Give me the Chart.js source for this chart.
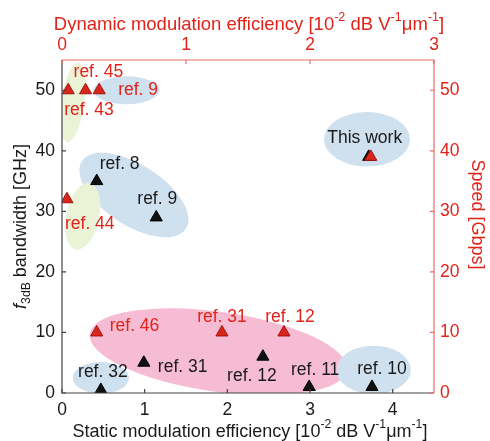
<!DOCTYPE html>
<html>
<head>
<meta charset="utf-8">
<script src="https://cdn.jsdelivr.net/npm/chart.js@4/dist/chart.umd.min.js"></script>
<style>body{margin:0;background:#fff}</style>
</head>
<body>
<canvas id="chart" width="490" height="441"></canvas>
<script>
// static efficiency (bottom axis) vs 3 dB bandwidth (left axis)
const staticRefs = ['ref. 8', 'ref. 9', 'This work', 'ref. 32', 'ref. 31', 'ref. 12', 'ref. 11', 'ref. 10'];
const staticEff  = [0.42, 1.14, 3.71, 0.47, 0.99, 2.43, 2.99, 3.75];
const staticBw   = [35, 29, 39, 0.5, 5, 6, 1, 1];

// dynamic efficiency (top axis) vs speed (right axis)
const dynRefs  = ['ref. 43', 'ref. 45', 'ref. 9', 'ref. 44', 'ref. 46', 'ref. 31', 'ref. 12', ''];
const dynEff   = [0.05, 0.19, 0.30, 0.04, 0.28, 1.29, 1.79, 2.49];
const dynSpeed = [50, 50, 50, 32, 10, 10, 10, 39];

const staticTicks = [0, 1, 2, 3, 4];
const dynTicks = [0, 1, 2, 3];
const yTicks = [0, 10, 20, 30, 40, 50];

const RED = '#e2231a';
const INK = '#1a1a1a';
const FONT = '"Liberation Sans", Arial, sans-serif';

// label placement (px offset from point, alignment)
const staticLabelPos = [
  [3, -17, 'left'], [1, -18, 'center'], [-4, -19, 'center'], [2, -18, 'center'],
  [14, 4, 'left'], [-11, 19, 'center'], [6, -17, 'center'], [10, -18, 'center']
];
const dynLabelPos = [
  [-4, 20, 'left'], [-12, -18, 'left'], [19, 0, 'left'], [-2, 25, 'left'],
  [13, -6, 'left'], [0, -15, 'center'], [6, -15, 'center'], null
];

// shaded groups, in bottom-axis / left-axis units
const regions = [
  {cx: 0.78, cy: 50,   rx: 0.40, ry: 2.3, rot: 0,  fill: '#cfe0ef'},
  {cx: 0.13, cy: 48,   rx: 0.14, ry: 6.6, rot: 8,  fill: '#eaf3d6'},
  {cx: 0.87, cy: 32.7, rx: 0.75, ry: 5.0, rot: 33, fill: '#cfe0ef'},
  {cx: 0.25, cy: 29.2, rx: 0.20, ry: 5.6, rot: 12, fill: '#eaf3d6'},
  {cx: 3.69, cy: 41.9, rx: 0.52, ry: 4.5, rot: 0,  fill: '#cfe0ef'},
  {cx: 1.89, cy: 6.8,  rx: 1.57, ry: 6.6, rot: 8,  fill: '#f6bcd4'},
  {cx: 0.47, cy: 2.5,  rx: 0.34, ry: 2.6, rot: 0,  fill: '#cfe0ef'},
  {cx: 3.77, cy: 3.8,  rx: 0.45, ry: 4.0, rot: 0,  fill: '#cfe0ef'}
];

function drawRich(ctx, parts, x, y, size, color) {
  let w = 0;
  parts.forEach(p => {
    ctx.font = (p.it ? 'italic ' : '') + (p.s ? size * 0.68 : size) + 'px ' + FONT;
    p.w = ctx.measureText(p.t).width;
    w += p.w;
  });
  let cx = x - w / 2;
  ctx.fillStyle = color;
  ctx.textBaseline = 'middle';
  ctx.textAlign = 'left';
  parts.forEach(p => {
    ctx.font = (p.it ? 'italic ' : '') + (p.s ? size * 0.68 : size) + 'px ' + FONT;
    const dy = p.s === 'sup' ? -size * 0.42 : (p.s === 'sub' ? size * 0.3 : 0);
    ctx.fillText(p.t, cx, y + dy);
    cx += p.w;
  });
}

const unitParts = [
  {t: ' [10'}, {t: '-2', s: 'sup'}, {t: ' dB V'}, {t: '-1', s: 'sup'},
  {t: 'μm'}, {t: '-1', s: 'sup'}, {t: ']'}
];

const decor = {
  id: 'decor',
  beforeDatasetsDraw(chart) {
    const {ctx, chartArea: a, scales} = chart;
    ctx.save();
    ctx.beginPath();
    ctx.rect(a.left, a.top, a.width, a.height);
    ctx.clip();
    regions.forEach(r => {
      const px = scales.x.getPixelForValue(r.cx);
      const py = scales.y.getPixelForValue(r.cy);
      const rx = Math.abs(scales.x.getPixelForValue(r.cx + r.rx) - px);
      const ry = Math.abs(scales.y.getPixelForValue(r.cy + r.ry) - py);
      ctx.beginPath();
      ctx.ellipse(px, py, rx, ry, r.rot * Math.PI / 180, 0, Math.PI * 2);
      ctx.fillStyle = r.fill;
      ctx.fill();
    });
    ctx.restore();
  },
  afterDraw(chart) {
    const {ctx, chartArea: a, scales} = chart;
    ctx.save();
    // frame
    ctx.lineWidth = 1.2;
    ctx.strokeStyle = '#444';
    ctx.beginPath();
    ctx.moveTo(a.left, a.top); ctx.lineTo(a.left, a.bottom); ctx.lineTo(a.right, a.bottom);
    ctx.stroke();
    ctx.strokeStyle = '#ea6a64';
    ctx.beginPath();
    ctx.moveTo(a.left, a.top); ctx.lineTo(a.right, a.top); ctx.lineTo(a.right, a.bottom);
    ctx.stroke();
    // inward ticks
    const t = 4;
    ctx.strokeStyle = '#444';
    ctx.beginPath();
    yTicks.forEach(v => { const p = scales.y.getPixelForValue(v); ctx.moveTo(a.left, p); ctx.lineTo(a.left + t, p); });
    staticTicks.forEach(v => { const p = scales.x.getPixelForValue(v); ctx.moveTo(p, a.bottom); ctx.lineTo(p, a.bottom - t); });
    ctx.stroke();
    ctx.strokeStyle = '#ea6a64';
    ctx.beginPath();
    yTicks.forEach(v => { const p = scales.yRight.getPixelForValue(v); ctx.moveTo(a.right, p); ctx.lineTo(a.right - t, p); });
    dynTicks.forEach(v => { const p = scales.xTop.getPixelForValue(v); ctx.moveTo(p, a.top); ctx.lineTo(p, a.top + t); });
    ctx.stroke();

    // point labels
    ctx.font = '17.5px ' + FONT;
    ctx.textBaseline = 'middle';
    const put = (meta, names, pos, color) => {
      meta.data.forEach((el, i) => {
        if (!pos[i] || !names[i]) return;
        ctx.fillStyle = color;
        ctx.textAlign = pos[i][2];
        ctx.fillText(names[i], el.x + pos[i][0], el.y + pos[i][1]);
      });
    };
    put(chart.getDatasetMeta(1), staticRefs, staticLabelPos, INK);
    put(chart.getDatasetMeta(0), dynRefs, dynLabelPos, RED);

    // axis titles
    const midX = (a.left + a.right) / 2;
    const midY = (a.top + a.bottom) / 2;
    drawRich(ctx, [{t: 'Static modulation efficiency'}].concat(unitParts), midX + 2, 432, 18, INK);
    drawRich(ctx, [{t: 'Dynamic modulation efficiency'}].concat(unitParts), midX + 1, 25, 18.5, RED);
    ctx.save();
    ctx.translate(21, midY);
    ctx.rotate(-Math.PI / 2);
    drawRich(ctx, [{t: 'f', it: true}, {t: '3dB', s: 'sub'}, {t: ' bandwidth [GHz]'}], 0, 0, 18, INK);
    ctx.restore();
    ctx.save();
    ctx.translate(477, midY - 12);
    ctx.rotate(Math.PI / 2);
    drawRich(ctx, [{t: 'Speed [Gbps]'}], 0, 0, 18, RED);
    ctx.restore();
    ctx.restore();
  }
};

const fixSize = (w, h) => scale => {
  if (w) scale.width = w;
  if (h) scale.height = h;
};

new Chart(document.getElementById('chart'), {
  type: 'scatter',
  data: {
    datasets: [
      {
        label: 'Dynamic',
        data: dynEff.map((v, i) => ({x: v, y: dynSpeed[i]})),
        xAxisID: 'xTop',
        yAxisID: 'yRight',
        pointStyle: 'triangle',
        pointRadius: 7,
        backgroundColor: '#d9261c',
        borderColor: '#a3140e',
        borderWidth: 1
      },
      {
        label: 'Static',
        data: staticEff.map((v, i) => ({x: v, y: staticBw[i]})),
        xAxisID: 'x',
        yAxisID: 'y',
        pointStyle: 'triangle',
        pointRadius: 7,
        backgroundColor: '#111',
        borderColor: '#000',
        borderWidth: 1
      }
    ]
  },
  options: {
    responsive: false,
    animation: false,
    devicePixelRatio: 1,
    layout: {padding: 0},
    plugins: {legend: {display: false}, tooltip: {enabled: false}},
    scales: {
      x: {
        type: 'linear', position: 'bottom', min: 0, max: 4.5,
        afterFit: fixSize(0, 48),
        grid: {display: false, drawTicks: false}, border: {display: false},
        ticks: {stepSize: 1, includeBounds: false, color: INK, padding: 7, font: {family: FONT, size: 17.5}}
      },
      xTop: {
        type: 'linear', position: 'top', min: 0, max: 3,
        afterFit: fixSize(0, 60),
        grid: {display: false, drawTicks: false}, border: {display: false},
        ticks: {stepSize: 1, includeBounds: false, color: RED, padding: 4, font: {family: FONT, size: 17.5}}
      },
      y: {
        type: 'linear', position: 'left', min: 0, max: 55,
        afterFit: fixSize(62, 0),
        grid: {display: false, drawTicks: false}, border: {display: false},
        ticks: {stepSize: 10, includeBounds: false, color: INK, padding: 7, font: {family: FONT, size: 17.5}}
      },
      yRight: {
        type: 'linear', position: 'right', min: 0, max: 55,
        afterFit: fixSize(56, 0),
        grid: {display: false, drawTicks: false}, border: {display: false},
        ticks: {stepSize: 10, includeBounds: false, color: RED, padding: 6, font: {family: FONT, size: 17.5}}
      }
    }
  },
  plugins: [decor]
});
</script>
</body>
</html>
